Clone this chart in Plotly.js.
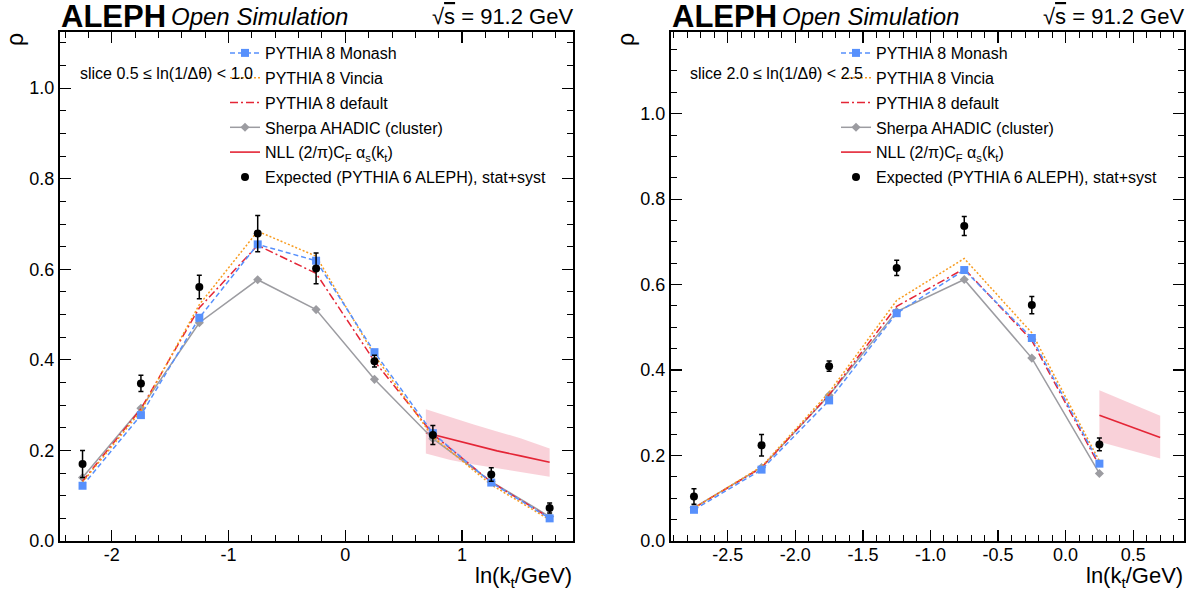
<!DOCTYPE html>
<html>
<head>
<meta charset="utf-8">
<script src="https://cdn.plot.ly/plotly-3.0.1.min.js"></script>
<style>
html,body{margin:0;padding:0;background:#fff;}
#chart{width:1195px;height:597px;}
</style>
</head>
<body>
<div id="chart"></div>
<script>
// ---------- data: left panel, slice 0.5 <= ln(1/dtheta) < 1.0 ----------
const xLeft      = [-2.25, -1.75, -1.25, -0.75, -0.25, 0.25, 0.75, 1.25, 1.75];
const expLeft    = [0.170, 0.348, 0.561, 0.679, 0.602, 0.397, 0.234, 0.147, 0.073];
const expErrLeft = [0.030, 0.018, 0.026, 0.040, 0.034, 0.013, 0.021, 0.015, 0.011];
const monashLeft = [0.122, 0.278, 0.493, 0.655, 0.619, 0.417, 0.238, 0.129, 0.050];
const vinciaLeft = [0.130, 0.287, 0.522, 0.684, 0.629, 0.410, 0.230, 0.124, 0.047];
const defaultLeft= [0.132, 0.292, 0.515, 0.653, 0.591, 0.397, 0.236, 0.130, 0.051];
const sherpaLeft = [0.140, 0.293, 0.482, 0.577, 0.511, 0.357, 0.226, 0.131, 0.054];
const nllXLeft   = [0.69, 0.9, 1.1, 1.3, 1.5, 1.75];
const nllLeft    = [0.239, 0.225, 0.212, 0.199, 0.188, 0.174];
const nllUpLeft  = [0.291, 0.273, 0.257, 0.242, 0.227, 0.204];
const nllLoLeft  = [0.193, 0.179, 0.169, 0.161, 0.153, 0.142];

// ---------- data: right panel, slice 2.0 <= ln(1/dtheta) < 2.5 ----------
const xRight      = [-2.75, -2.25, -1.75, -1.25, -0.75, -0.25, 0.25];
const expRight    = [0.104, 0.224, 0.409, 0.639, 0.737, 0.552, 0.226];
const expErrRight = [0.018, 0.025, 0.012, 0.018, 0.022, 0.020, 0.015];
const monashRight = [0.073, 0.167, 0.329, 0.533, 0.634, 0.475, 0.181];
const vinciaRight = [0.077, 0.174, 0.348, 0.563, 0.661, 0.487, 0.187];
const defaultRight= [0.077, 0.172, 0.342, 0.549, 0.637, 0.469, 0.176];
const sherpaRight = [0.078, 0.172, 0.341, 0.537, 0.612, 0.428, 0.158];
const nllXRight   = [0.25, 0.4, 0.55, 0.7];
const nllRight    = [0.2945, 0.277, 0.259, 0.242];
const nllUpRight  = [0.353, 0.333, 0.312, 0.293];
const nllLoRight  = [0.232, 0.219, 0.205, 0.193];

// ---------- tick labels ----------
const xTicksLeft   = [-2, -1, 0, 1];
const xLabelsLeft  = ["-2", "-1", "0", "1"];
const xTicksRight  = [-2.5, -2.0, -1.5, -1.0, -0.5, 0.0, 0.5];
const xLabelsRight = ["-2.5", "-2.0", "-1.5", "-1.0", "-0.5", "0.0", "0.5"];
const yTicks       = [0, 0.2, 0.4, 0.6, 0.8, 1.0];
const yLabels      = ["0.0", "0.2", "0.4", "0.6", "0.8", "1.0"];

// ---------- labels ----------
const names = {
  monash: "PYTHIA 8 Monash",
  vincia: "PYTHIA 8 Vincia",
  def: "PYTHIA 8 default",
  sherpa: "Sherpa AHADIC (cluster)",
  nll: "NLL (2/π)C<sub>F</sub> α<sub>s</sub>(k<sub>t</sub>)",
  exp: "Expected (PYTHIA 6 ALEPH), stat+syst"
};
const sliceLeft  = "slice 0.5 ≤ ln(1/Δθ) < 1.0";
const sliceRight = "slice 2.0 ≤ ln(1/Δθ) < 2.5";

const FONT = "Liberation Sans, Arial, Helvetica, sans-serif";
const C = {blue:'#5790fc', orange:'#f89c20', red:'#e42536', gray:'#9c9ca1', nll:'#e42536', band:'rgba(232,88,120,0.28)'};

function panel(xa, ya, legendName, x, exp, err, mon, vin, def, she, nx, nl, nu, nlo) {
  const common = {xaxis: xa, yaxis: ya, legend: legendName, type: 'scatter'};
  return [
    Object.assign({}, common, {x: nx, y: nlo, mode: 'lines', line: {width: 0, color: C.band}, showlegend: false, hoverinfo: 'skip'}),
    Object.assign({}, common, {x: nx, y: nu, mode: 'lines', line: {width: 0, color: C.band}, fill: 'tonexty', fillcolor: C.band, showlegend: false, hoverinfo: 'skip'}),
    Object.assign({}, common, {x: nx, y: nl, mode: 'lines', name: names.nll, legendrank: 5, legendgroup: 'g5', line: {color: C.nll, width: 1.6}}),
    Object.assign({}, common, {x: x, y: she, mode: 'lines+markers', name: names.sherpa, legendrank: 4, legendgroup: 'g4', line: {color: C.gray, width: 1.5}, marker: {symbol: 'diamond', size: 7, color: C.gray}}),
    Object.assign({}, common, {x: x, y: def, mode: 'lines', name: names.def, legendrank: 3, legendgroup: 'g3', line: {color: C.red, width: 1.5, dash: '8px,3px,2px,3px'}}),
    Object.assign({}, common, {x: x, y: vin, mode: 'lines', name: names.vincia, legendrank: 2, legendgroup: 'g2', line: {color: C.orange, width: 1.5, dash: '2px,2px'}}),
    Object.assign({}, common, {x: x, y: mon, mode: 'lines+markers', name: names.monash, legendrank: 1, legendgroup: 'g1', line: {color: C.blue, width: 1.5, dash: '5px,3px'}, marker: {symbol: 'square', size: 8, color: C.blue}}),
    Object.assign({}, common, {x: x, y: exp, mode: 'markers', name: names.exp, legendrank: 6, legendgroup: 'g6', marker: {symbol: 'circle', size: 8, color: 'black'},
      error_y: {type: 'data', array: err, visible: true, color: 'black', thickness: 1.5, width: 2.5}})
  ];
}

const data = [].concat(
  panel('x', 'y', 'legend', xLeft, expLeft, expErrLeft, monashLeft, vinciaLeft, defaultLeft, sherpaLeft, nllXLeft, nllLeft, nllUpLeft, nllLoLeft),
  panel('x2', 'y2', 'legend2', xRight, expRight, expErrRight, monashRight, vinciaRight, defaultRight, sherpaRight, nllXRight, nllRight, nllUpRight, nllLoRight)
);

const W = 1195, H = 597;
const px = v => v / W, py = v => 1 - v / H;

function axisBase() {
  return {
    showline: true, linewidth: 2, linecolor: 'black', mirror: 'allticks',
    ticks: 'inside', ticklen: 11, tickwidth: 1.2, tickcolor: 'black',
    showgrid: false, zeroline: false,
    tickfont: {family: FONT, size: 18, color: 'black'},
    tickmode: 'array'
  };
}
const yDomain = [py(541), py(32)];
const xaxis  = Object.assign(axisBase(), {domain: [px(60), px(573)], range: [-2.443, 1.95], anchor: 'y',
  tickvals: xTicksLeft, ticktext: xLabelsLeft, ticklabelstandoff: -4,
  minor: {ticks: 'inside', ticklen: 6, tickwidth: 1, tickcolor: 'black', tickmode: 'linear', tick0: 0, dtick: 0.2, showgrid: false}});
const yaxis  = Object.assign(axisBase(), {domain: yDomain, range: [0, 1.124], anchor: 'x',
  tickvals: yTicks, ticktext: yLabels,
  minor: {ticks: 'inside', ticklen: 6, tickwidth: 1, tickcolor: 'black', tickmode: 'linear', tick0: 0, dtick: 0.05, showgrid: false}});
const xaxis2 = Object.assign(axisBase(), {domain: [px(671), px(1184)], range: [-2.92, 0.876], anchor: 'y2',
  tickvals: xTicksRight, ticktext: xLabelsRight, ticklabelstandoff: -4,
  minor: {ticks: 'inside', ticklen: 6, tickwidth: 1, tickcolor: 'black', tickmode: 'linear', tick0: 0, dtick: 0.1, showgrid: false}});
const yaxis2 = Object.assign(axisBase(), {domain: yDomain, range: [0, 1.191], anchor: 'x2',
  tickvals: yTicks, ticktext: yLabels,
  minor: {ticks: 'inside', ticklen: 6, tickwidth: 1, tickcolor: 'black', tickmode: 'linear', tick0: 0, dtick: 0.05, showgrid: false}});

function legendAt(xPx) {
  return {x: px(xPx), xanchor: 'left', y: py(36), yanchor: 'top',
    font: {family: FONT, size: 16, color: 'black'}, bgcolor: 'rgba(0,0,0,0)', borderwidth: 0,
    traceorder: 'grouped', tracegroupgap: 1, itemwidth: 30};
}

function ann(text, xPx, yPx, opts) {
  return Object.assign({xref: 'paper', yref: 'paper', x: px(xPx), y: py(yPx), text: text, showarrow: false,
    xanchor: 'left', yanchor: 'middle', font: {family: FONT, size: 16, color: 'black'}}, opts || {});
}

const annotations = [];
[[60, 573, sliceLeft, 78], [671, 1184, sliceRight, 688]].forEach(([l, r, slice, sx]) => {
  annotations.push(ann('<b>ALEPH</b>', l - 1, 16, {font: {family: FONT, size: 31, color: 'black'}}));
  annotations.push(ann('<i>Open Simulation</i>', l + 109, 17, {font: {family: FONT, size: 24, color: 'black'}}));
  annotations.push(ann("√<span style='text-decoration:overline'>s</span> = 91.2 GeV", r + 2, 17, {xanchor: 'right', font: {family: FONT, size: 22, color: 'black'}}));
  annotations.push(ann('ρ', l - 45, 40, {textangle: -90, xanchor: 'center', font: {family: FONT, size: 23, color: 'black'}}));
  annotations.push(ann('ln(k<sub>t</sub>/GeV)', r + 1, 577, {xanchor: 'right', font: {family: FONT, size: 22, color: 'black'}}));
  annotations.push(ann(slice, sx, 74, {font: {family: FONT, size: 16, color: 'black'}}));
});

const layout = {
  width: W, height: H,
  margin: {l: 0, r: 0, t: 0, b: 0},
  paper_bgcolor: 'white', plot_bgcolor: 'white',
  font: {family: FONT, color: 'black'},
  showlegend: true,
  xaxis: xaxis, yaxis: yaxis, xaxis2: xaxis2, yaxis2: yaxis2,
  legend: legendAt(225), legend2: legendAt(836),
  annotations: annotations
};

Plotly.newPlot('chart', data, layout, {displayModeBar: false, staticPlot: true});
</script>
</body>
</html>
